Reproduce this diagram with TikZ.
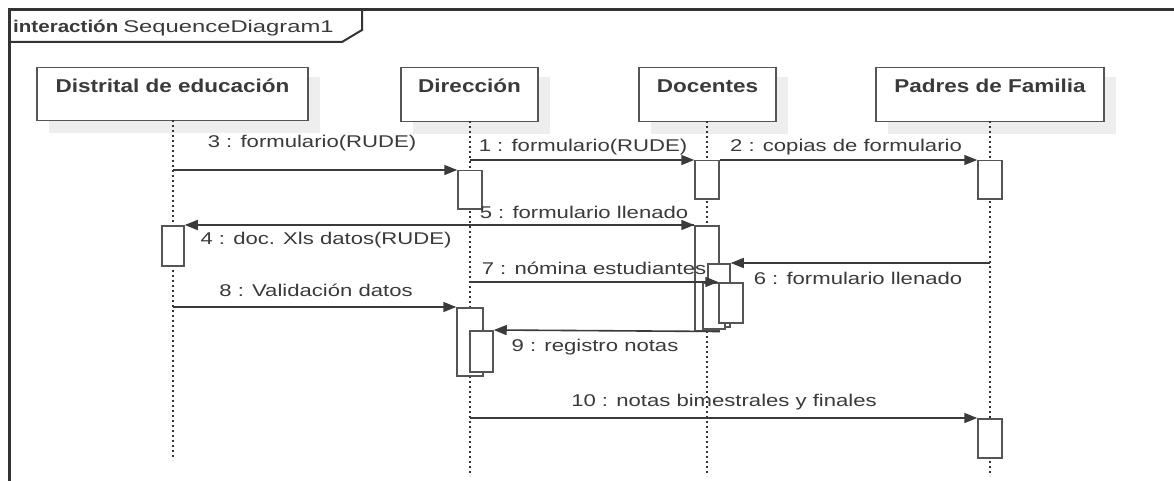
\documentclass[tikz,border=0pt]{standalone}
\usepackage{fontspec}
\setmainfont{Liberation Sans}
\newfontfamily\lblfont{Liberation Sans}[FakeStretch=1.3]
\newfontfamily\headfont{Liberation Sans}[FakeStretch=1.21]
\newfontfamily\titlefont{Liberation Sans}[FakeStretch=1.4]
\usetikzlibrary{arrows.meta}
\definecolor{ink}{HTML}{3A3A3A}
\definecolor{boxc}{HTML}{555555}
\definecolor{framec}{HTML}{333333}
\definecolor{shadowc}{HTML}{EEEEEE}
\begin{document}
\begin{tikzpicture}[x=1pt,y=-1pt,
  head/.style={draw=boxc, line width=1.5pt, fill=white, inner sep=0pt, anchor=north},
  htext/.style={anchor=north, inner sep=0pt, yshift=-11pt, text height=14pt, text=ink,
    font=\headfont\bfseries\fontsize{18.6}{22}\selectfont},
  act/.style={draw=boxc, line width=1.5pt, fill=white, inner sep=0pt, anchor=north},
  lifel/.style={draw=framec, line width=1.6pt, dash pattern=on 2pt off 3pt},
  msg/.style={draw=ink, line width=1.6pt, -{Triangle[length=13pt,width=10pt]}},
  lbl/.style={inner sep=0pt, text=ink, font=\lblfont\fontsize{17}{20}\selectfont},
]
\useasboundingbox (0,0) rectangle (1174,481);
\fill[white] (0,0) rectangle (1174,481);

% frame and tab
\draw[framec, line width=3pt] (9,481) -- (9,10) -- (1174,10);
\draw[framec, line width=2pt] (9,42) -- (342,42) -- (362,30) -- (362,10);
\node[anchor=base west, inner sep=0pt, text=ink] (title) at (13,33)
  {{\headfont\bfseries\fontsize{17}{20}\selectfont interactión}\hspace{5pt}{\titlefont\fontsize{17}{20}\selectfont SequenceDiagram1}};

% shadows
\fill[shadowc] (49,77) rectangle (320,133);
\fill[shadowc] (413,77) rectangle (550,134);
\fill[shadowc] (651,77) rectangle (788,134);
\fill[shadowc] (888,77) rectangle (1116,134);

% heads
\node[head, minimum width=271pt, minimum height=53pt] (dis) at (172.5,67) {};
\node[htext] at (dis.north) {Distrital de educación};
\node[head, minimum width=137pt, minimum height=54pt] (dir) at (469.5,67) {};
\node[htext] at (dir.north) {Dirección};
\node[head, minimum width=137pt, minimum height=54pt] (doc) at (707.5,67) {};
\node[htext] at (doc.north) {Docentes};
\node[head, minimum width=228pt, minimum height=54pt] (pad) at (990,67) {};
\node[htext] at (pad.north) {Padres de Familia};

% lifelines
\draw[lifel] (173,120) -- (173,460);
\draw[lifel] (470,121) -- (470,476);
\draw[lifel] (707,121) -- (707,476);
\draw[lifel] (990,121) -- (990,476);
\coordinate (ldis) at (173,120);
\coordinate (ldir) at (470,121);
\coordinate (ldoc) at (707,121);
\coordinate (lpad) at (990,121);

% activations
\node[act, minimum width=24pt, minimum height=38pt] (dir1) at (470,170) {};
\node[act, minimum width=24pt, minimum height=38pt] (doc1) at (707,160) {};
\node[act, minimum width=24pt, minimum height=38pt] (pad1) at (990,160) {};
\node[act, minimum width=22pt, minimum height=40pt] (dis1) at (173,225) {};
\node[act, minimum width=24pt, minimum height=105pt] (doc2) at (707,225) {};
\node[act, minimum width=22pt, minimum height=63pt] (docA) at (719,263) {};
\node[act, minimum width=22pt, minimum height=46pt] (docB) at (714,282) {};
\node[act, minimum width=24pt, minimum height=40pt] (docC) at (731,282) {};
\node[act, minimum width=26pt, minimum height=68pt] (dir2) at (470,307) {};
\node[act, minimum width=23pt, minimum height=41pt] (dir3) at (481.5,330) {};
\node[act, minimum width=24pt, minimum height=39pt] (pad2) at (990,418) {};

% messages
\draw[msg] (ldis |- dir1.north west) -- (dir1.north west);
\draw[msg] (ldir |- doc1.north west) -- (doc1.north west);
\draw[msg] (doc1.north east) -- (pad1.north west);
\draw[msg] (ldir |- doc2.north west) -- (doc2.north west);
\draw[msg] (doc2.north west) -- (dis1.north east);
\draw[msg] (lpad |- docA.north east) -- (docA.north east);
\draw[msg] (ldir |- docC.north west) -- (docC.north west);
\draw[msg] (ldis |- dir2.north west) -- (dir2.north west);
\draw[msg] (doc2.south east) -- (dir3.north east);
\draw[msg] (ldir |- pad2.north west) -- (pad2.north west);

% labels
\node[lbl] (l3) at (312,143) {3 : formulario(RUDE)};
\node[lbl] (l1) at (583,147) {1 : formulario(RUDE)};
\node[lbl] (l2) at (846,147) {2 : copias de formulario};
\node[lbl] (l5) at (584,212) {5 : formulario llenado};
\node[lbl] (l4) at (326,240) {4 : doc. Xls datos(RUDE)};
\node[lbl] (l7) at (594,268) {7 : nómina estudiantes};
\node[lbl] (l6) at (858,278) {6 : formulario llenado};
\node[lbl] (l8) at (316,290) {8 : Validación datos};
\node[lbl] (l9) at (595,347) {9 : registro notas};
\node[lbl] (l10) at (724,402) {10 : notas bimestrales y finales};
\end{tikzpicture}
\end{document}
